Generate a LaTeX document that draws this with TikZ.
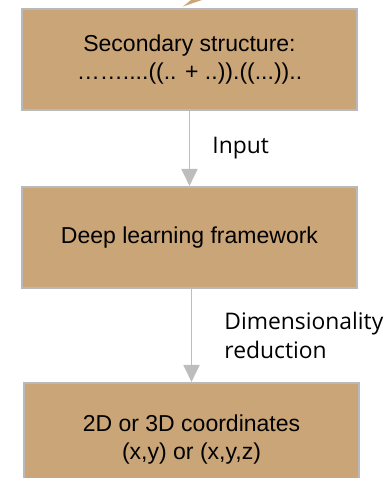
\documentclass[tikz,border=0pt]{standalone}
\usepackage{fontspec}
\setmainfont{Liberation Sans}
\newfontfamily\labelfont{Open Sans}
\usetikzlibrary{arrows.meta,positioning}

\definecolor{boxtan}{HTML}{CAA577}
\definecolor{boxedge}{HTML}{B9B9B9}
\definecolor{flowgray}{HTML}{BDBDBD}

\begin{document}
\begin{tikzpicture}[x=0.02cm,y=-0.02cm,
    stagebox/.style={draw=boxedge,line width=1.2pt,fill=boxtan,minimum width=6.7cm,minimum height=2.02cm,
      align=center,inner sep=0pt,font=\fontsize{13.1}{16}\selectfont},
    flow/.style={draw=flowgray,line width=1.1pt,-{Triangle[width=0.32cm,length=0.34cm]}},
    flowlabel/.style={inner sep=0pt,align=left,font=\labelfont\fontsize{13}{16.6}\selectfont}]
    \pgfmathsetmacro{\boxcx}{189.5}
    \useasboundingbox (0,0) rectangle (387,478);
    % cut-off tip of the arrow coming from above
    \fill[boxtan] (183,6.5) -- (191,0) -- (202,0) -- cycle;
    \node[stagebox](secstruct) at (\boxcx,59.5) {Secondary structure:\\……....((.. + ..)).((...))..};
    \node[stagebox](dlf) at (\boxcx,237.5) {Deep learning framework};
    \node[stagebox,minimum height=2.26cm](coords) at (\boxcx+2,439.5) {2D or 3D coordinates\\(x,y) or (x,y,z)};
    \draw[flow] (secstruct.south) -- node[flowlabel,right=0.44cm]{Input} (dlf.north);
    \draw[flow] (dlf.south -| coords.north) -- node[flowlabel,right=0.64cm]{Dimensionality\\reduction} (coords.north);
\end{tikzpicture}
\end{document}
